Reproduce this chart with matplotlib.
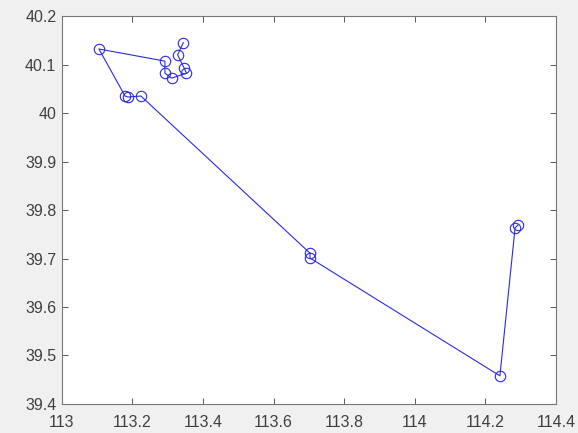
import numpy as np
import matplotlib
matplotlib.use("Agg")
from matplotlib import pyplot as plt

plt.rcParams['font.family'] = ['Liberation Sans', 'DejaVu Sans']

# track points (longitude, latitude)
lon = [113.344, 113.328, 113.347, 113.353, 113.311, 113.292, 113.292, 113.105,
       113.179, 113.187, 113.224, 113.703, 113.703, 114.241, 114.284, 114.292]
lat = [40.145, 40.120, 40.092, 40.082, 40.072, 40.082, 40.107, 40.132,
       40.035, 40.033, 40.035, 39.711, 39.701, 39.458, 39.763, 39.769]

xticks = np.round(np.arange(113.0, 114.41, 0.2), 1)
yticks = np.round(np.arange(39.4, 40.21, 0.1), 1)

fig = plt.figure(figsize=(5.78, 4.33), dpi=100, facecolor="#f0f0f0")
ax = fig.add_axes([0.107, 0.067, 0.855, 0.896])
ax.set_facecolor("white")

ax.plot(lon, lat, color="#2a2ae0", linewidth=0.8, marker="o", markersize=7.5,
        markerfacecolor="none", markeredgecolor="#2a2ae0", markeredgewidth=0.8)

ax.set_xlim(113.0, 114.4)
ax.set_ylim(39.4, 40.2)
ax.set_xticks(xticks)
ax.set_yticks(yticks)
ax.set_xticklabels([f"{v:g}" for v in xticks])
ax.set_yticklabels([f"{v:g}" for v in yticks])
ax.tick_params(direction="in", top=True, right=True, length=4, width=0.6,
               colors="#404040", labelsize=11.5, labelcolor="#404040")
ax.tick_params(axis="x", pad=8)
ax.tick_params(axis="y", pad=4)
for s in ax.spines.values():
    s.set_color("#777777")
    s.set_linewidth(0.8)

fig.savefig("out.png", dpi=100, facecolor=fig.get_facecolor())
